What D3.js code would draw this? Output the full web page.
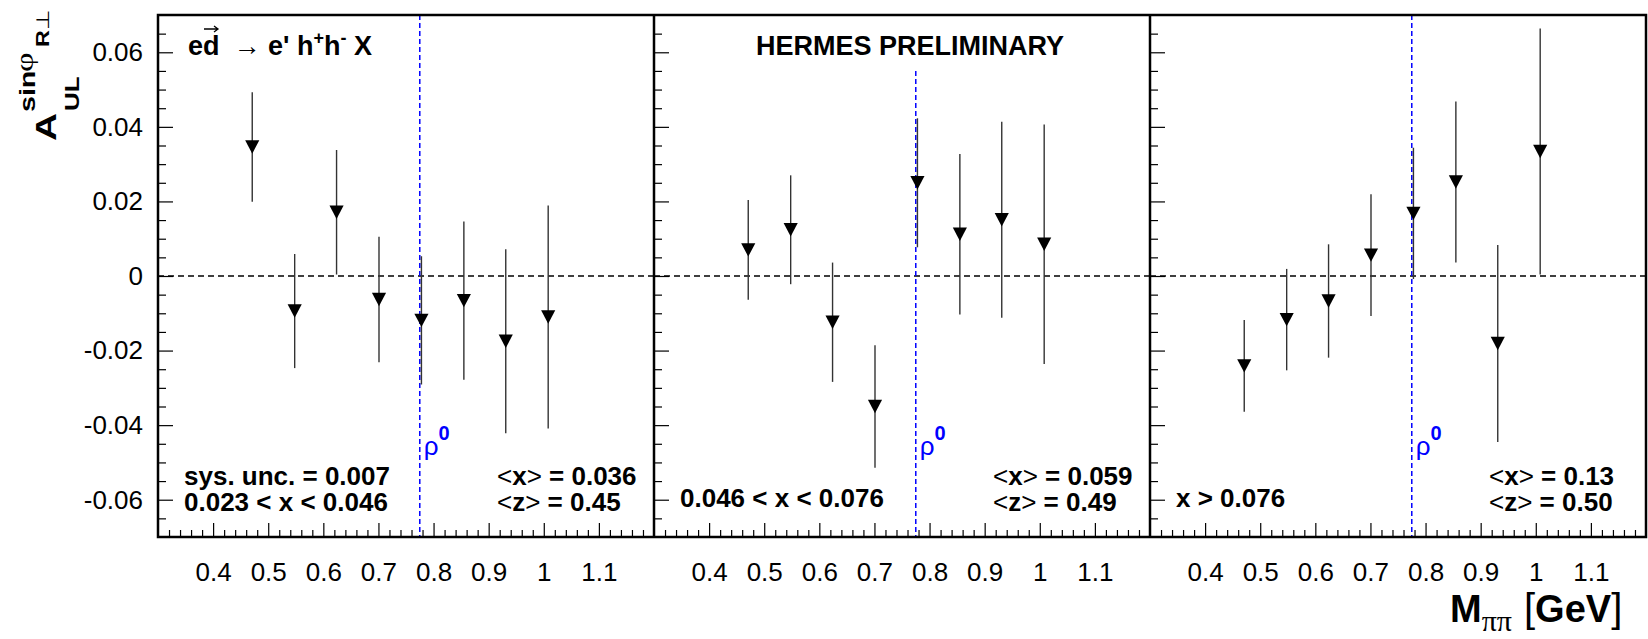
<!DOCTYPE html>
<html>
<head>
<meta charset="utf-8">
<script src="https://cdn.jsdelivr.net/npm/d3@7"></script>
<style>
  html, body { margin: 0; padding: 0; background: #fff; }
  svg { display: block; font-family: "Liberation Sans", Arial, Helvetica, sans-serif; }
</style>
</head>
<body>
<svg id="chart" width="1648" height="639"></svg>
<script>
// invariant mass bin centres (GeV), shared by the three x bins
const massBins = [0.471, 0.548, 0.624, 0.701, 0.778, 0.855, 0.931, 1.008];

// asymmetry values and statistical errors, per x bin
const asymLowX = [0.0346, -0.0094, 0.0171, -0.0063, -0.0119, -0.0066, -0.0175, -0.0110];
const errLowX  = [0.0147, 0.0153, 0.0167, 0.0168, 0.0172, 0.0212, 0.0247, 0.0299];
const asymMidX = [0.0070, 0.0124, -0.0124, -0.0350, 0.0250, 0.0112, 0.0151, 0.0085];
const errMidX  = [0.0134, 0.0146, 0.0160, 0.0164, 0.0173, 0.0215, 0.0263, 0.0321];
const asymHighX = [-0.0241, -0.0117, -0.0067, 0.0056, 0.0168, 0.0252, -0.0181, 0.0334];
const errHighX  = [0.0123, 0.0136, 0.0152, 0.0163, 0.0176, 0.0216, 0.0264, 0.0330];

// panel annotations
const binLabels = [["sys. unc. = 0.007", "0.023 < x < 0.046"], ["0.046 < x < 0.076"], ["x > 0.076"]];
const meanX = ["0.036", "0.059", "0.13"];
const meanZ = ["0.45", "0.49", "0.50"];
const rhoMass = 0.775;

// tick values
const yMajor = [-0.06, -0.04, -0.02, 0, 0.02, 0.04, 0.06];
const xMajor = [0.4, 0.5, 0.6, 0.7, 0.8, 0.9, 1.0, 1.1];

const series = [
  { values: asymLowX, errors: errLowX },
  { values: asymMidX, errors: errMidX },
  { values: asymHighX, errors: errHighX }
];

const svg = d3.select('#chart');

const margin = { left: 158, right: 1646, top: 15, bottom: 537 };
const panelWidth = (margin.right - margin.left) / 3;

const yScale = d3.scaleLinear().domain([-0.07, 0.07]).range([margin.bottom, margin.top]);

// minor tick positions
const yMinor = d3.range(-0.065, 0.0651, 0.005)
  .filter(v => !yMajor.some(m => Math.abs(m - v) < 1e-6));
const xMinor = d3.range(0.32, 1.19, 0.02)
  .filter(v => !xMajor.some(m => Math.abs(m - v) < 1e-6));

// downward triangle marker (ROOT style 23)
const triangleDown = {
  draw(context, size) {
    const w = Math.sqrt(size);
    const h = w * 0.95;
    context.moveTo(-w / 2, -h / 2);
    context.lineTo(w / 2, -h / 2);
    context.lineTo(0, h / 2);
    context.closePath();
  }
};

series.forEach((s, p) => {
  const x0 = margin.left + p * panelWidth;
  const xScale = d3.scaleLinear().domain([0.3, 1.2]).range([x0, x0 + panelWidth]);
  const g = svg.append('g');

  // zero line
  g.append('line')
    .attr('x1', x0).attr('x2', x0 + panelWidth)
    .attr('y1', yScale(0)).attr('y2', yScale(0))
    .attr('stroke', '#000')
    .attr('stroke-width', 1.5)
    .attr('stroke-dasharray', '6,4');

  // rho mass line
  g.append('line')
    .attr('x1', xScale(rhoMass)).attr('x2', xScale(rhoMass))
    .attr('y1', p === 1 ? 71 : margin.top).attr('y2', margin.bottom)
    .attr('stroke', '#0000ff')
    .attr('stroke-width', 1.5)
    .attr('stroke-dasharray', '5,3');

  const rho = g.append('text')
    .attr('x', xScale(rhoMass) + 4)
    .attr('y', 455)
    .attr('fill', '#0000ff')
    .style('font-size', '26px');
  rho.append('tspan').text('ρ');
  rho.append('tspan')
    .attr('dy', -15)
    .style('font-size', '20px')
    .style('font-weight', 'bold')
    .text('0');

  // y axis ticks (inward)
  const yAxis = g.append('g')
    .attr('transform', `translate(${x0},0)`)
    .call(d3.axisLeft(yScale)
      .tickValues(yMajor)
      .tickSize(-15)
      .tickPadding(15)
      .tickFormat(d => p === 0 ? (d === 0 ? '0' : d.toFixed(2)) : ''));
  yAxis.select('.domain').remove();
  yAxis.selectAll('line').attr('stroke', '#000').attr('stroke-width', 1.2);
  yAxis.selectAll('text')
    .style('font-size', '26px')
    .style('font-family', '"Liberation Sans", Arial, sans-serif')
    .attr('fill', '#000');

  const yMinorAxis = g.append('g')
    .attr('transform', `translate(${x0},0)`)
    .call(d3.axisLeft(yScale).tickValues(yMinor).tickSize(-8).tickFormat(''));
  yMinorAxis.select('.domain').remove();
  yMinorAxis.selectAll('line').attr('stroke', '#000').attr('stroke-width', 1.2);

  // x axis ticks (inward)
  const xAxis = g.append('g')
    .attr('transform', `translate(0,${margin.bottom})`)
    .call(d3.axisBottom(xScale)
      .tickValues(xMajor)
      .tickSize(-14)
      .tickPadding(26)
      .tickFormat(d => String(+d.toFixed(1))));
  xAxis.select('.domain').remove();
  xAxis.selectAll('line').attr('stroke', '#000').attr('stroke-width', 1.2);
  xAxis.selectAll('text')
    .style('font-size', '26px')
    .style('font-family', '"Liberation Sans", Arial, sans-serif')
    .attr('fill', '#000');

  const xMinorAxis = g.append('g')
    .attr('transform', `translate(0,${margin.bottom})`)
    .call(d3.axisBottom(xScale).tickValues(xMinor).tickSize(-7).tickFormat(''));
  xMinorAxis.select('.domain').remove();
  xMinorAxis.selectAll('line').attr('stroke', '#000').attr('stroke-width', 1.2);

  // error bars
  g.selectAll('.err')
    .data(s.values)
    .enter()
    .append('line')
    .attr('class', 'err')
    .attr('x1', (d, i) => xScale(massBins[i]))
    .attr('x2', (d, i) => xScale(massBins[i]))
    .attr('y1', (d, i) => yScale(d + s.errors[i]))
    .attr('y2', (d, i) => yScale(d - s.errors[i]))
    .attr('stroke', '#333')
    .attr('stroke-width', 1.4);

  // markers
  g.selectAll('.pt')
    .data(s.values)
    .enter()
    .append('path')
    .attr('class', 'pt')
    .attr('d', d3.symbol().type(triangleDown).size(200))
    .attr('transform', (d, i) => `translate(${xScale(massBins[i])},${yScale(d)})`)
    .attr('fill', '#000');

  // bin annotations
  const lines = binLabels[p];
  lines.forEach((t, k) => {
    g.append('text')
      .attr('x', x0 + 26)
      .attr('y', lines.length === 2 ? 485 + k * 26 : 507)
      .style('font-size', '26px')
      .style('font-weight', 'bold')
      .text(t);
  });

  [['x', meanX[p]], ['z', meanZ[p]]].forEach(([v, val], k) => {
    const t = g.append('text')
      .attr('x', x0 + 339)
      .attr('y', 485 + k * 26)
      .style('font-size', '26px')
      .style('font-weight', 'bold');
    t.append('tspan').style('font-weight', 'normal').text('<');
    t.append('tspan').text(v);
    t.append('tspan').style('font-weight', 'normal').text('>');
    t.append('tspan').text(` = ${val}`);
  });
});

// frame and panel dividers
svg.append('rect')
  .attr('x', margin.left).attr('y', margin.top)
  .attr('width', margin.right - margin.left).attr('height', margin.bottom - margin.top)
  .attr('fill', 'none')
  .attr('stroke', '#000')
  .attr('stroke-width', 2.5);

[1, 2].forEach(k => {
  svg.append('line')
    .attr('x1', margin.left + k * panelWidth).attr('x2', margin.left + k * panelWidth)
    .attr('y1', margin.top).attr('y2', margin.bottom)
    .attr('stroke', '#000')
    .attr('stroke-width', 2.5);
});

// reaction label
const reaction = svg.append('text')
  .attr('x', 188)
  .attr('y', 55)
  .style('font-size', '27px')
  .style('font-weight', 'bold');
reaction.append('tspan').text('ed');
reaction.append('tspan').attr('dx', 14).style('font-weight', 'normal').style('font-size', '27px').text('→');
reaction.append('tspan').text(" e' h");
reaction.append('tspan').attr('dy', -11).style('font-size', '18px').text('+');
reaction.append('tspan').attr('dy', 11).text('h');
reaction.append('tspan').attr('dy', -11).style('font-size', '18px').text('-');
reaction.append('tspan').attr('dy', 11).text(' X');

// vector arrow over the d
const vec = d3.path();
vec.moveTo(204, 29); vec.lineTo(218, 29);
vec.moveTo(214, 26); vec.lineTo(218, 29); vec.lineTo(214, 32);
svg.append('path')
  .attr('d', vec.toString())
  .attr('fill', 'none')
  .attr('stroke', '#000')
  .attr('stroke-width', 1.3);

// preliminary label
svg.append('text')
  .attr('x', 910)
  .attr('y', 55)
  .attr('text-anchor', 'middle')
  .style('font-size', '27px')
  .style('font-weight', 'bold')
  .text('HERMES PRELIMINARY');

// y axis title (rotated, glyphs stretched along the text direction)
const stretch = 1.3;
const yTitle = svg.append('g').attr('transform', `rotate(-90) scale(${stretch},1)`);
yTitle.append('text')
  .attr('x', -141 / stretch).attr('y', 56)
  .style('font-size', '30px').style('font-weight', 'bold')
  .text('A');
yTitle.append('text')
  .attr('x', -111 / stretch).attr('y', 79)
  .style('font-size', '20px').style('font-weight', 'bold')
  .text('UL');
yTitle.append('text')
  .attr('x', -112 / stretch).attr('y', 35)
  .style('font-size', '22px').style('font-weight', 'bold')
  .text('sin');
yTitle.append('text')
  .attr('x', -72 / stretch).attr('y', 33)
  .style('font-size', '26px').style('font-family', '"Liberation Serif", "Times New Roman", serif')
  .text('φ');
const rperp = yTitle.append('text')
  .attr('x', -47 / stretch).attr('y', 49)
  .style('font-size', '18px');
rperp.append('tspan').style('font-weight', 'bold').text('R');
rperp.append('tspan').text('⊥');

// x axis title
const xTitle = svg.append('text')
  .attr('x', 1450)
  .attr('y', 622)
  .style('font-size', '38px');
xTitle.append('tspan').style('font-weight', 'bold').text('M');
xTitle.append('tspan').attr('dy', 9)
  .style('font-size', '30px')
  .style('font-family', '"Liberation Serif", "Times New Roman", serif')
  .text('ππ');
xTitle.append('tspan').attr('dy', -9).attr('dx', 12).style('font-size', '40px').text('[');
xTitle.append('tspan').style('font-weight', 'bold').text('GeV');
xTitle.append('tspan').style('font-size', '40px').text(']');
</script>
</body>
</html>
